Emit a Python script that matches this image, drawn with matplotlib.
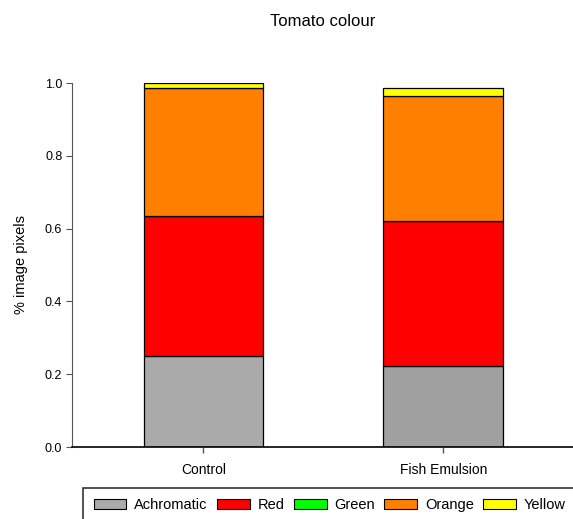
import matplotlib
matplotlib.use("Agg")
import matplotlib.pyplot as plt
from matplotlib.patches import Patch
import numpy as np

plt.rcParams['font.family'] = ['Liberation Sans', 'DejaVu Sans']

categories = ["Control", "Fish Emulsion"]
series = ["Achromatic", "Red", "Green", "Orange", "Yellow"]
achromatic = [0.250, 0.222]
red = [0.385, 0.399]
green = [0.0, 0.0]
orange = [0.351, 0.343]
yellow = [0.014, 0.022]
yticks = [0.0, 0.2, 0.4, 0.6, 0.8, 1.0]

colors = {"Achromatic": "#AAAAAA", "Red": "#FF0000", "Green": "#00FF00",
          "Orange": "#FF8000", "Yellow": "#FFFF00"}
achrom_bar_colors = ["#AAAAAA", "#A0A0A0"]

fig = plt.figure(figsize=(5.73, 5.19), dpi=100)
ax = fig.add_axes([72/573, 1-447/519, (573-72)/573, (447-83)/519])

x = np.arange(len(categories))
data = [achromatic, red, green, orange, yellow]
bottom = np.zeros(len(categories))
for name, vals in zip(series, data):
    fc = achrom_bar_colors if name == "Achromatic" else colors[name]
    ax.bar(x, vals, width=0.5, bottom=bottom, color=fc,
           edgecolor="black", linewidth=0.9)
    bottom += np.array(vals)

ax.set_xlim(-0.548, 1.54)
ax.set_ylim(0, 1.0)
ax.set_xticks(x)
ax.set_xticklabels(categories, fontsize=10)
ax.set_yticks(yticks)
ax.set_yticklabels([f"{v:.1f}" for v in yticks], fontsize=9)
ax.spines['top'].set_visible(False)
ax.spines['right'].set_visible(False)
ax.spines['left'].set_color("#555555")
ax.spines['left'].set_linewidth(0.8)
ax.spines['bottom'].set_color("black")
ax.spines['bottom'].set_linewidth(1.2)
ax.tick_params(axis='y', direction='out', length=4, color="#555555", width=0.8, pad=3)
ax.tick_params(axis='x', direction='out', length=4, color="#555555", width=1, pad=7.5)
ax.set_ylabel("% image pixels", fontsize=10.5, labelpad=12)
ax.set_title("Tomato colour", fontsize=12, pad=41)

handles = [Patch(facecolor=colors[s], edgecolor="black", linewidth=0.8, label=s) for s in series]
leg = fig.legend(handles=handles, loc="upper left", bbox_to_anchor=(83/573, 1-487.5/519),
                 ncol=5, fontsize=10.5, frameon=True, fancybox=False,
                 edgecolor="black", handlelength=2.25, handleheight=0.7,
                 columnspacing=0.62, handletextpad=0.55, borderpad=0.72,
                 borderaxespad=0)
leg.get_frame().set_linewidth(1.2)

fig.savefig("out.png", dpi=100)
